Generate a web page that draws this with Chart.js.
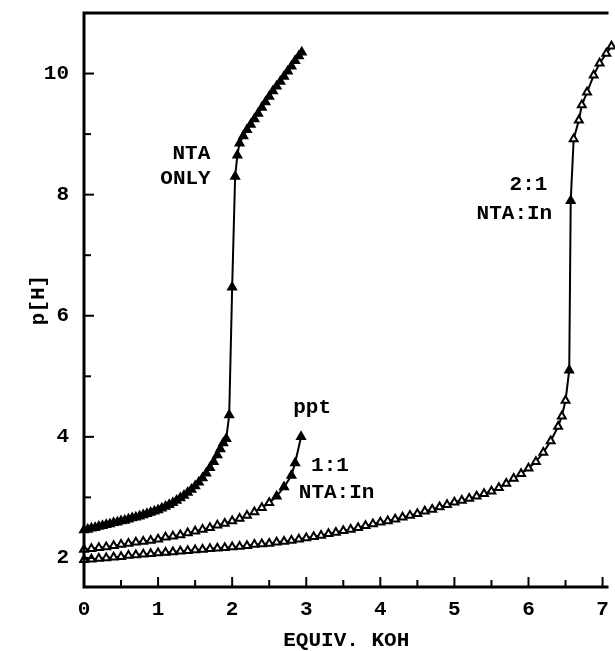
<!doctype html>
<html lang="en">
<head>
    <meta charset="UTF-8">
    <title>p[H] vs EQUIV. KOH</title>
    <script src="https://cdn.jsdelivr.net/npm/chart.js"></script>
    <style>
        body { margin: 0; background: #fff; }
        #wrap { width: 615px; height: 651px; }
    </style>
</head>
<body>
    <div id="wrap"><canvas id="titrationChart"></canvas></div>

    <script>
        // NTA only (filled triangles)
        const ntaX = [0.00, 0.05, 0.10, 0.15, 0.20, 0.25, 0.30, 0.35, 0.40, 0.45, 0.50, 0.55, 0.60, 0.65, 0.70, 0.75, 0.80, 0.85, 0.90, 0.95,
                      1.00, 1.05, 1.10, 1.15, 1.20, 1.25, 1.30, 1.35, 1.40, 1.45, 1.50, 1.55, 1.60, 1.65, 1.70, 1.75, 1.80, 1.84, 1.88, 1.92,
                      1.96, 2.00, 2.04, 2.07, 2.10, 2.15, 2.20, 2.25, 2.30, 2.35, 2.40, 2.45, 2.50, 2.55, 2.60, 2.65, 2.70, 2.75, 2.80, 2.85, 2.90, 2.94];
        const ntaY = [2.46, 2.47, 2.49, 2.50, 2.52, 2.53, 2.55, 2.56, 2.58, 2.59, 2.61, 2.62, 2.64, 2.66, 2.67, 2.69, 2.71, 2.73, 2.75, 2.77,
                      2.79, 2.82, 2.85, 2.88, 2.91, 2.95, 2.99, 3.03, 3.08, 3.13, 3.19, 3.25, 3.32, 3.40, 3.49, 3.59, 3.70, 3.80, 3.90, 3.97,
                      4.36, 6.47, 8.30, 8.65, 8.85, 8.97, 9.07, 9.16, 9.25, 9.34, 9.44, 9.53, 9.62, 9.71, 9.79, 9.87, 9.95, 10.04, 10.12, 10.21, 10.29, 10.35];

        // 1:1 NTA:In (ends at ppt)
        const oneX = [0.0, 0.1, 0.2, 0.3, 0.4, 0.5, 0.6, 0.7, 0.8, 0.9, 1.0, 1.1, 1.2, 1.3, 1.4, 1.5, 1.6, 1.7, 1.8, 1.9,
                      2.0, 2.1, 2.2, 2.3, 2.4, 2.5, 2.6, 2.7, 2.8, 2.85, 2.93];
        const oneY = [2.14, 2.15, 2.17, 2.18, 2.20, 2.22, 2.24, 2.26, 2.27, 2.29, 2.31, 2.34, 2.36, 2.38, 2.41, 2.44, 2.47, 2.50, 2.54, 2.57,
                      2.61, 2.65, 2.70, 2.76, 2.83, 2.91, 3.02, 3.17, 3.36, 3.57, 4.00];

        // 2:1 NTA:In
        const twoX = [0.0, 0.1, 0.2, 0.3, 0.4, 0.5, 0.6, 0.7, 0.8, 0.9, 1.0, 1.1, 1.2, 1.3, 1.4, 1.5, 1.6, 1.7, 1.8, 1.9,
                      2.0, 2.1, 2.2, 2.3, 2.4, 2.5, 2.6, 2.7, 2.8, 2.9, 3.0, 3.1, 3.2, 3.3, 3.4, 3.5, 3.6, 3.7, 3.8, 3.9,
                      4.0, 4.1, 4.2, 4.3, 4.4, 4.5, 4.6, 4.7, 4.8, 4.9, 5.0, 5.1, 5.2, 5.3, 5.4, 5.5, 5.6, 5.7, 5.8, 5.9,
                      6.0, 6.1, 6.2, 6.3, 6.4, 6.45, 6.5, 6.55, 6.57, 6.61, 6.68, 6.72, 6.79, 6.88, 6.96, 7.05, 7.12];
        const twoY = [1.97, 1.98, 1.99, 2.00, 2.01, 2.02, 2.04, 2.05, 2.06, 2.07, 2.08, 2.09, 2.10, 2.11, 2.12, 2.13, 2.14, 2.15, 2.16, 2.17,
                      2.18, 2.19, 2.20, 2.22, 2.23, 2.24, 2.26, 2.27, 2.29, 2.31, 2.33, 2.35, 2.37, 2.40, 2.42, 2.45, 2.47, 2.50, 2.53, 2.56,
                      2.59, 2.61, 2.64, 2.67, 2.70, 2.73, 2.77, 2.80, 2.84, 2.88, 2.92, 2.95, 2.98, 3.02, 3.06, 3.10, 3.16, 3.23, 3.31, 3.39,
                      3.48, 3.59, 3.74, 3.93, 4.17, 4.34, 4.60, 5.10, 7.90, 8.92, 9.23, 9.48, 9.69, 9.97, 10.17, 10.33, 10.45];

        const xTickLabels = ['0', '1', '2', '3', '4', '5', '6', '7'];
        const yTickLabels = ['2', '4', '6', '8', '10'];

        // curve labels, placed in data units
        const noteText = ['NTA', 'ONLY', 'ppt', '1:1', 'NTA:In', '2:1', 'NTA:In'];
        const noteX = [1.45, 1.37, 3.08, 3.32, 3.41, 6.0, 5.81];
        const noteY = [8.68, 8.27, 4.48, 3.53, 3.07, 8.16, 7.69];

        const FONT = 'bold 21px "Liberation Mono", "Courier New", monospace';

        function pts(xs, ys) {
            return xs.map((x, i) => ({ x: x, y: ys[i] }));
        }

        const framePlugin = {
            id: 'frame',
            afterDraw(chart) {
                const ctx = chart.ctx;
                const a = chart.chartArea;
                const xs = chart.scales.x;
                const ys = chart.scales.y;
                ctx.save();
                ctx.strokeStyle = '#000';
                ctx.lineWidth = 2;
                xs.ticks.forEach(t => {
                    const px = xs.getPixelForValue(t.value);
                    const len = Number.isInteger(t.value) ? 10 : 7;
                    ctx.beginPath();
                    ctx.moveTo(px, a.bottom);
                    ctx.lineTo(px, a.bottom - len);
                    ctx.stroke();
                });
                ys.ticks.forEach(t => {
                    const py = ys.getPixelForValue(t.value);
                    const len = t.value % 2 === 0 ? 10 : 7;
                    ctx.beginPath();
                    ctx.moveTo(a.left, py);
                    ctx.lineTo(a.left + len, py);
                    ctx.stroke();
                });
                ctx.lineWidth = 3;
                ctx.beginPath();
                ctx.moveTo(a.right, a.top);
                ctx.lineTo(a.left, a.top);
                ctx.lineTo(a.left, a.bottom);
                ctx.lineTo(a.right, a.bottom);
                ctx.stroke();

                ctx.fillStyle = '#000';
                ctx.font = FONT;
                ctx.textAlign = 'center';
                ctx.textBaseline = 'middle';
                noteText.forEach((s, i) => {
                    ctx.fillText(s, xs.getPixelForValue(noteX[i]), ys.getPixelForValue(noteY[i]));
                });
                ctx.restore();
            }
        };

        const openOrFilled = lim => ctx => (ctx.raw && lim(ctx.raw)) ? '#000' : '#fff';

        new Chart(document.getElementById('titrationChart').getContext('2d'), {
            type: 'scatter',
            data: {
                datasets: [{
                    label: 'NTA ONLY',
                    data: pts(ntaX, ntaY),
                    showLine: true,
                    borderColor: '#000',
                    borderWidth: 2,
                    pointStyle: 'triangle',
                    pointRadius: 5,
                    pointBackgroundColor: '#000',
                    pointBorderColor: '#000',
                    pointBorderWidth: 1.5,
                    clip: false
                }, {
                    label: '1:1 NTA:In',
                    data: pts(oneX, oneY),
                    showLine: true,
                    borderColor: '#000',
                    borderWidth: 2,
                    pointStyle: 'triangle',
                    pointRadius: 4.5,
                    pointBackgroundColor: openOrFilled(p => p.x >= 2.6),
                    pointBorderColor: '#000',
                    pointBorderWidth: 2,
                    clip: false
                }, {
                    label: '2:1 NTA:In',
                    data: pts(twoX, twoY),
                    showLine: true,
                    borderColor: '#000',
                    borderWidth: 2,
                    pointStyle: 'triangle',
                    pointRadius: 4.5,
                    pointBackgroundColor: openOrFilled(p => p.y > 4.9 && p.y < 8.5),
                    pointBorderColor: '#000',
                    pointBorderWidth: 2,
                    clip: false
                }]
            },
            options: {
                responsive: true,
                maintainAspectRatio: false,
                animation: false,
                layout: { padding: { left: 0, right: 0, top: 13, bottom: 0 } },
                plugins: {
                    legend: { display: false },
                    tooltip: { enabled: false }
                },
                scales: {
                    x: {
                        type: 'linear',
                        min: 0,
                        max: 7.08,
                        grid: { display: false, drawTicks: false },
                        border: { display: false },
                        ticks: {
                            stepSize: 0.5,
                            includeBounds: false,
                            autoSkip: false,
                            maxRotation: 0,
                            padding: 10,
                            color: '#000',
                            font: { family: '"Liberation Mono", monospace', size: 21, weight: 'bold' },
                            callback: v => Number.isInteger(v) ? xTickLabels[v] : ''
                        },
                        title: {
                            display: true,
                            text: 'EQUIV. KOH',
                            color: '#000',
                            font: { family: '"Liberation Mono", monospace', size: 21, weight: 'bold', lineHeight: 1 },
                            padding: { top: 0, bottom: 0 }
                        },
                        afterFit(s) {
                            s.height = 64;
                            s.paddingLeft = 0;
                            s.paddingRight = 0;
                        }
                    },
                    y: {
                        min: 1.52,
                        max: 11,
                        grid: { display: false, drawTicks: false },
                        border: { display: false },
                        ticks: {
                            stepSize: 1,
                            includeBounds: false,
                            autoSkip: false,
                            padding: 15,
                            color: '#000',
                            font: { family: '"Liberation Mono", monospace', size: 21, weight: 'bold' },
                            callback: v => (v % 2 === 0 && v <= 10) ? yTickLabels[v / 2 - 1] : ''
                        },
                        title: {
                            display: true,
                            text: 'p[H]',
                            color: '#000',
                            font: { family: '"Liberation Mono", monospace', size: 21, weight: 'bold', lineHeight: 1 },
                            padding: { top: 28, bottom: 0 }
                        },
                        afterFit(s) {
                            s.width = 84;
                            s.paddingTop = 0;
                            s.paddingBottom = 0;
                        }
                    }
                }
            },
            plugins: [framePlugin]
        });
    </script>
</body>
</html>
